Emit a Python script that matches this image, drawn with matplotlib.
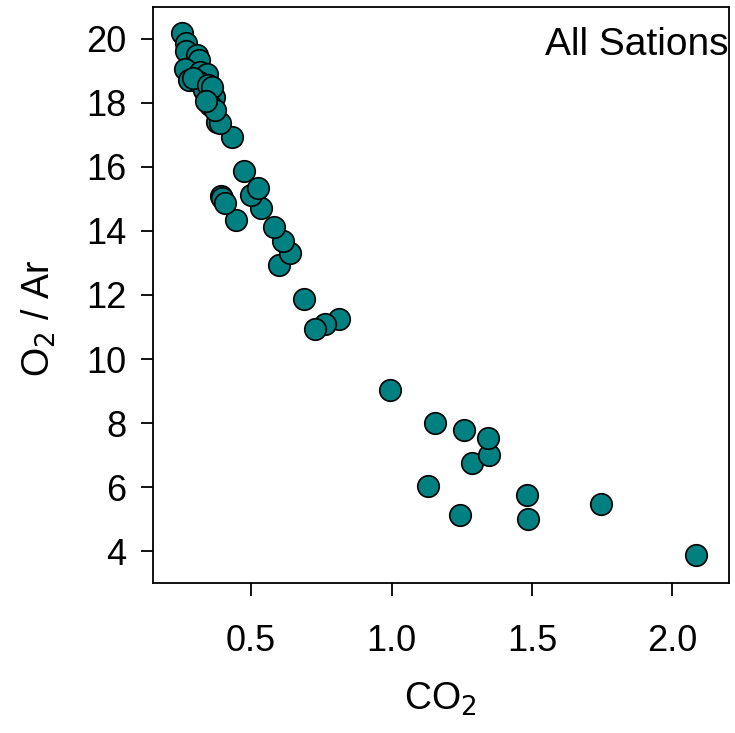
import matplotlib
matplotlib.use('Agg')
import matplotlib.pyplot as plt

# values
co2 = [2.084, 1.745, 1.486, 1.483, 1.245, 1.131, 1.287, 1.347, 1.344, 1.258,
       1.153, 0.995, 0.813, 0.764, 0.729, 0.689, 0.599, 0.637, 0.614, 0.582,
       0.537, 0.498, 0.525, 0.474, 0.445, 0.393, 0.398, 0.409, 0.432, 0.378,
       0.391, 0.254, 0.270, 0.267, 0.308, 0.314, 0.266, 0.278, 0.320, 0.343,
       0.314, 0.331, 0.355, 0.367, 0.355, 0.373, 0.295, 0.348, 0.362, 0.341]
o2_ar = [3.87, 5.48, 5.01, 5.76, 5.13, 6.03, 6.76, 7.02, 7.53, 7.78,
         7.99, 9.05, 11.24, 11.11, 10.95, 11.88, 12.95, 13.31, 13.70, 14.12,
         14.70, 15.12, 15.33, 15.87, 14.35, 15.08, 15.03, 14.86, 16.92, 17.39,
         17.37, 20.17, 19.88, 19.63, 19.48, 19.32, 19.06, 18.70, 18.96, 18.91,
         18.64, 18.39, 18.28, 18.18, 17.92, 17.76, 18.76, 18.54, 18.48, 18.07]

x_ticks = [0.5, 1.0, 1.5, 2.0]
y_ticks = [4, 6, 8, 10, 12, 14, 16, 18, 20]

plt.rcParams['font.family'] = ['Liberation Sans', 'DejaVu Sans']

fig = plt.figure(figsize=(7.35, 7.33), dpi=100)
ax = fig.add_axes([0.2078, 0.2042, 0.7836, 0.7867])

ax.scatter(co2, o2_ar, s=240, c='#008080', edgecolors='black', linewidths=1.2, zorder=3)

ax.set_xlim(0.15, 2.2)
ax.set_ylim(3, 21)
ax.set_xticks(x_ticks)
ax.set_xticklabels([f'{v:.1f}' for v in x_ticks])
ax.set_yticks(y_ticks)

ax.tick_params(direction='out', length=9, width=1.3, labelsize=26,
               top=False, right=False)
ax.tick_params(axis='x', pad=20)
ax.tick_params(axis='y', pad=10)
for s in ax.spines.values():
    s.set_linewidth(1.3)

ax.set_xlabel('CO$_2$', fontsize=27, labelpad=16)
ax.set_ylabel('O$_2$ / Ar', fontsize=27)
ax.yaxis.set_label_coords(-0.165, 0.46)

ax.text(0.999, 0.965, 'All Sations', transform=ax.transAxes, ha='right', va='top', fontsize=28)

fig.savefig('out.png', dpi=100)
